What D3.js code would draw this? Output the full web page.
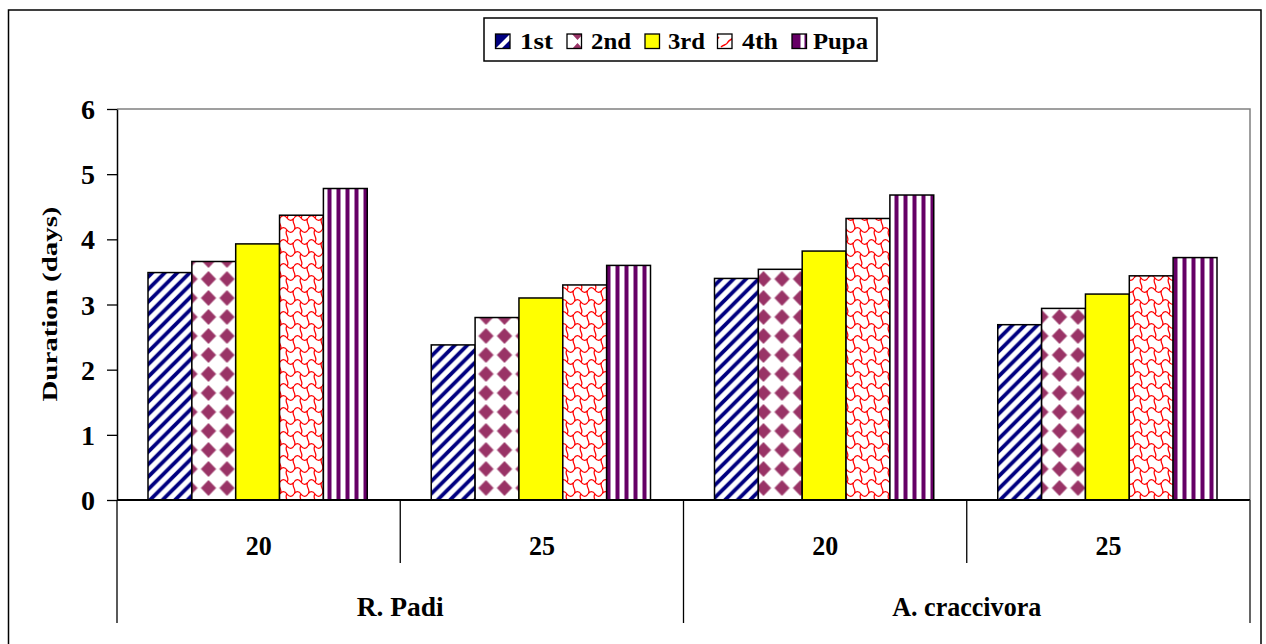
<!DOCTYPE html>
<html><head><meta charset="utf-8">
<script src="https://cdn.jsdelivr.net/npm/d3@7"></script>
<style>body{margin:0;background:#fff}svg{display:block}</style>
</head><body>
<script>
const species = ["R. Padi", "A. craccivora"];
const temps = ["20", "25"];
const series = ["1st", "2nd", "3rd", "4th", "Pupa"];
const v1st  = [3.49, 2.38, 3.40, 2.69];
const v2nd  = [3.66, 2.80, 3.54, 2.94];
const v3rd  = [3.93, 3.10, 3.82, 3.16];
const v4th  = [4.37, 3.30, 4.32, 3.44];
const vPupa = [4.78, 3.60, 4.68, 3.72];
const yTicks = [0, 1, 2, 3, 4, 5, 6];

const values = [v1st, v2nd, v3rd, v4th, vPupa];
const cats = [];
species.forEach(s => temps.forEach(t => cats.push(s + "|" + t)));

const FONT = "Liberation Serif";
const W = 1266, H = 644;
const svg = d3.select("body").append("svg").attr("width", W).attr("height", H);
const defs = svg.append("defs");

function pat(id, w, h, x, y) {
  return defs.append("pattern").attr("id", id).attr("patternUnits", "userSpaceOnUse")
    .attr("width", w).attr("height", h).attr("x", x || 0).attr("y", y || 0);
}
// 1st: navy diagonal stripes
const P = 12.5;
const p0 = pat("p0", P, P);
p0.append("rect").attr("width", P).attr("height", P).attr("fill", "#fff");
p0.append("path").attr("d", `M-3,${P + 3} L${P + 3},-3 M-3,3 L3,-3 M${P - 3},${P + 3} L${P + 3},${P - 3}`)
  .attr("stroke", "#000080").attr("stroke-width", 3.8);
// 2nd: plum diamonds
const p1 = pat("p1", 18.5, 19, 14.25, 3.5);
p1.append("rect").attr("width", 18.5).attr("height", 19).attr("fill", "#fff");
p1.append("path").attr("d", "M9.25,2 L16.5,9.5 L9.25,17 L2,9.5 Z")
  .attr("fill", "#993366").attr("stroke", "#993366").attr("stroke-width", 0.8).attr("stroke-linejoin", "round");
// 3rd: yellow
const p2 = pat("p2", 10, 10);
p2.append("rect").attr("width", 10).attr("height", 10).attr("fill", "#ffff00");
// 4th: red puzzle / brick waves
const p3 = pat("p3", 14, 24, 0, 2);
p3.append("rect").attr("width", 14).attr("height", 24).attr("fill", "#fff");
const wav = yy => `M0,${yy} C2,${yy - 3.2} 5,${yy - 3.2} 7,${yy} C9,${yy + 3.2} 12,${yy + 3.2} 14,${yy} `;
p3.append("path").attr("d",
  wav(0) + wav(12) + wav(24) +
  "M0,0 C-3.5,4 3.5,8 0,12 M14,0 C10.5,4 17.5,8 14,12 M7,12 C3.5,16 10.5,20 7,24")
  .attr("fill", "none").attr("stroke", "#ff0000").attr("stroke-width", 1.25);
// Pupa: purple vertical stripes
const p4 = pat("p4", 9, 9, 1, 0);
p4.append("rect").attr("width", 9).attr("height", 9).attr("fill", "#fff");
p4.append("rect").attr("x", 2.5).attr("width", 4).attr("height", 9).attr("fill", "#660066");

// legend patterns (small swatches)
const l0 = pat("l0", 15, 15, 0, 34);
l0.append("rect").attr("width", 15).attr("height", 15).attr("fill", "#fff");
l0.append("path").attr("d", "M0,0 L0,15 L15,0 Z M15,6 L15,15 L6,15 Z").attr("fill", "#000080");
const l1 = pat("l1", 15, 15, 0, 34);
l1.append("rect").attr("width", 15).attr("height", 15).attr("fill", "#fff");
l1.append("path").attr("d", "M2,0 L7.5,6 L13,0 Z M2,15 L7.5,9 L13,15 Z").attr("fill", "#993366");
const l3 = pat("l3", 15, 15, 0, 34);
l3.append("rect").attr("width", 15).attr("height", 15).attr("fill", "#fff");
l3.append("path").attr("d", "M1,13 C4,10 6,12 8,8 C10,5 12,6 14,3").attr("fill", "none").attr("stroke", "#ff0000").attr("stroke-width", 1.4);
const l4 = pat("l4", 15, 15, 0, 34);
l4.append("rect").attr("width", 15).attr("height", 15).attr("fill", "#fff");
l4.append("rect").attr("x", 0).attr("width", 5.5).attr("height", 15).attr("fill", "#660066");
l4.append("rect").attr("x", 9.5).attr("width", 5.5).attr("height", 15).attr("fill", "#660066");
const legendFill = ["url(#l0)", "url(#l1)", "#ffff00", "url(#l3)", "url(#l4)"];

// outer frame
svg.append("rect").attr("x", 8.5).attr("y", 10).attr("width", 1252.5).attr("height", 640)
  .attr("fill", "none").attr("stroke", "#000").attr("stroke-width", 1.5);

const L = 117, R = 1250, T = 109, B = 500;
const x0 = d3.scaleBand().domain(cats).range([L, R]).paddingInner(0).paddingOuter(0);
const x1 = d3.scaleBand().domain(series).range([31, x0.bandwidth() - 33]);
const y = d3.scaleLinear().domain([0, 6]).range([B, T]);

// plot border (gray)
svg.append("path").attr("d", `M${L},${T} H${R} V${B}`).attr("fill", "none").attr("stroke", "#808080").attr("stroke-width", 1.5);

// bars
cats.forEach((c, ci) => {
  series.forEach((s, si) => {
    const v = values[si][ci];
    svg.append("rect")
      .attr("x", x0(c) + x1(s)).attr("y", y(v))
      .attr("width", x1.bandwidth()).attr("height", B - y(v))
      .attr("fill", `url(#p${si})`).attr("stroke", "#000").attr("stroke-width", 1.5);
  });
});

// y axis
const yAxis = d3.axisLeft(y).tickValues(yTicks).tickFormat(d3.format("d")).tickSize(10).tickSizeOuter(0).tickPadding(12);
const ga = svg.append("g").attr("transform", `translate(${L},0)`).call(yAxis);
ga.select(".domain").attr("stroke", "#000").attr("stroke-width", 1.5);
ga.selectAll(".tick line").attr("stroke", "#000").attr("stroke-width", 1.3);
ga.selectAll(".tick text").attr("font-size", 28).attr("font-family", FONT).attr("font-weight", "bold")
  .attr("fill", "#000").attr("dy", "0.34em");

svg.append("text").attr("transform", `translate(57,${304}) rotate(-90)`)
  .attr("text-anchor", "middle").attr("font-size", 21).attr("font-family", FONT).attr("font-weight", "bold")
  .attr("textLength", 195).attr("lengthAdjust", "spacingAndGlyphs")
  .text("Duration (days)");

// x axis baseline
svg.append("line").attr("x1", L).attr("x2", R).attr("y1", B).attr("y2", B).attr("stroke", "#000").attr("stroke-width", 2);

// category dividers and labels
cats.forEach((c, ci) => {
  const xl = x0(c);
  const tall = ci % 2 === 0;
  svg.append("line").attr("x1", xl).attr("x2", xl).attr("y1", B).attr("y2", tall ? 623 : 563)
    .attr("stroke", "#000").attr("stroke-width", 1.3);
  svg.append("text").attr("x", xl + x0.bandwidth() / 2).attr("y", 555)
    .attr("text-anchor", "middle").attr("font-size", 28).attr("font-family", FONT).attr("font-weight", "bold")
    .attr("textLength", 26).attr("lengthAdjust", "spacingAndGlyphs")
    .text(c.split("|")[1]);
});
svg.append("line").attr("x1", R).attr("x2", R).attr("y1", B).attr("y2", 623).attr("stroke", "#333").attr("stroke-width", 1.5);
const spLen = [87, 149];
species.forEach((s, i) => {
  const xs = x0(s + "|" + temps[0]);
  svg.append("text").attr("x", xs + x0.bandwidth()).attr("y", 616)
    .attr("text-anchor", "middle").attr("font-size", 28).attr("font-family", FONT).attr("font-weight", "bold")
    .attr("textLength", spLen[i]).attr("lengthAdjust", "spacingAndGlyphs")
    .text(s);
});

// legend
const lg = svg.append("g");
lg.append("rect").attr("x", 484).attr("y", 18).attr("width", 393).attr("height", 43)
  .attr("fill", "#fff").attr("stroke", "#000").attr("stroke-width", 1.5);
const lx = [495.5, 567, 645, 717.5, 792];
const tx = [520, 591, 668, 742, 813];
const tl = [33, 40, 37, 36, 55];
series.forEach((s, i) => {
  lg.append("rect").attr("x", lx[i]).attr("y", 34).attr("width", 14.5).attr("height", 14.5)
    .attr("fill", legendFill[i]).attr("stroke", "#000").attr("stroke-width", 1.3);
  lg.append("text").attr("x", tx[i]).attr("y", 48.5).attr("font-size", 24)
    .attr("font-family", FONT).attr("font-weight", "bold")
    .attr("textLength", tl[i]).attr("lengthAdjust", "spacingAndGlyphs").text(s);
});
</script>
</body></html>
